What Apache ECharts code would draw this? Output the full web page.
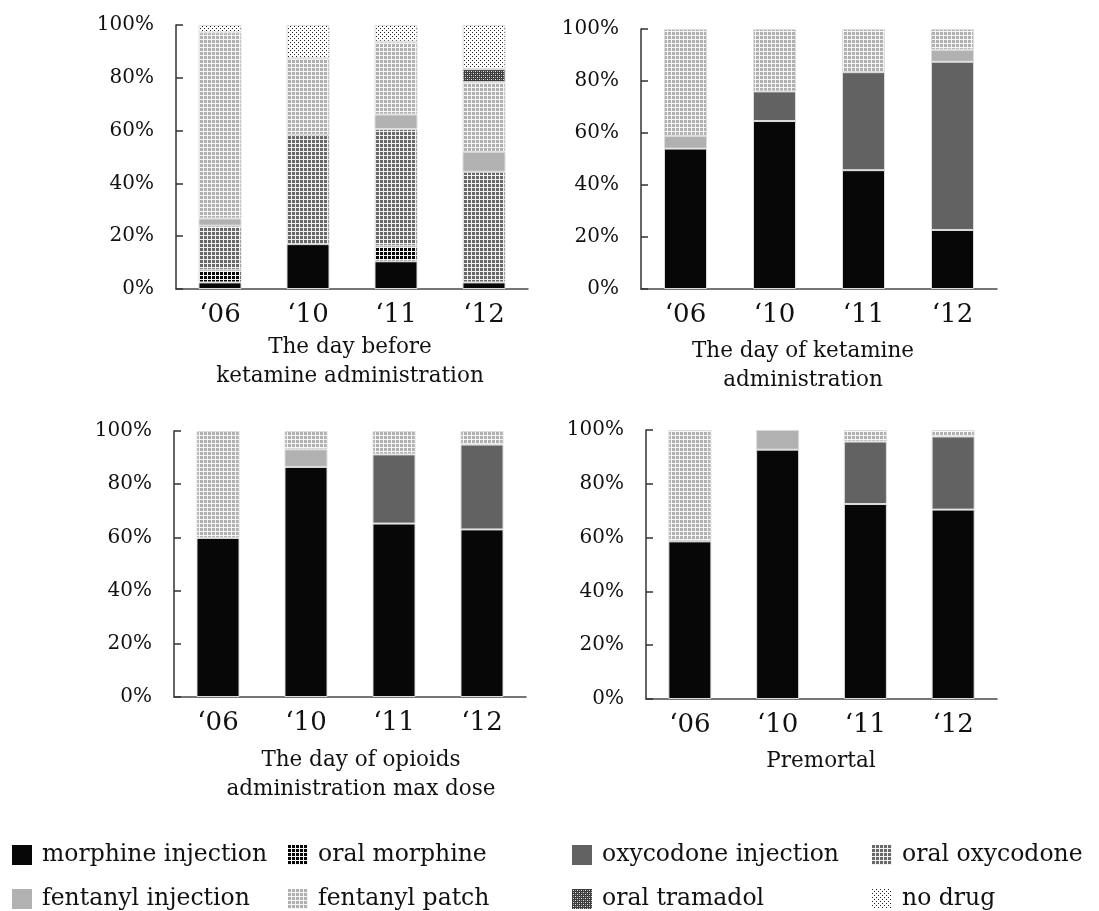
<!DOCTYPE html>
<html>
<head>
<meta charset="utf-8">
<script src="https://cdn.jsdelivr.net/npm/echarts@6/dist/echarts.min.js"></script>
<style>
  html, body { margin: 0; padding: 0; background: #fff; }
  #chart { width: 1099px; height: 911px; }
</style>
</head>
<body>
<div id="chart"></div>
<script>
// Years on each x axis and y-axis tick values (%)
const years = ['\u201806', '\u201810', '\u201811', '\u201812'];
const yMin = 0, yMax = 100, yStep = 20;

// Panel captions
const panelTitles = [
  'The day before\nketamine administration',
  'The day of ketamine\nadministration',
  'The day of opioids\nadministration max dose',
  'Premortal'
];

// Drug names, bottom to top of each stacked bar
const drugs = ['morphine injection', 'oral morphine', 'oxycodone injection', 'oral oxycodone',
               'fentanyl injection', 'fentanyl patch', 'oral tramadol', 'no drug'];

// Share of patients (%) per drug: one row per panel, one value per year
const morphineInjection  = [[2.5, 17, 10.5, 2.5], [54, 64.6, 45.7, 22.7], [59.8, 86.5, 65.2, 63], [58.6, 92.7, 72.5, 70.4]];
const oralMorphine       = [[4.8, 0, 5.9, 0], [0, 0, 0, 0], [0, 0, 0, 0], [0, 0, 0, 0]];
const oxycodoneInjection = [[0, 0, 0, 0], [0, 11.4, 37.7, 64.7], [0, 0, 26, 31.9], [0, 0, 23.2, 27.2]];
const oralOxycodone      = [[16.7, 41.3, 44.2, 41.9], [0, 0, 0, 0], [0, 0, 0, 0], [0, 0, 0, 0]];
const fentanylInjection  = [[2.7, 0, 5.5, 7.6], [4.9, 0, 0, 4.6], [0, 6.6, 0, 0], [0, 7.3, 0, 0]];
const fentanylPatch      = [[70.5, 29.1, 27.6, 26.3], [41.1, 24, 16.6, 8], [40.2, 6.9, 8.8, 5.1], [41.4, 0, 4.3, 2.4]];
const oralTramadol       = [[0, 0, 0, 5], [0, 0, 0, 0], [0, 0, 0, 0], [0, 0, 0, 0]];
const noDrug             = [[2.8, 12.6, 6.3, 16.7], [0, 0, 0, 0], [0, 0, 0, 0], [0, 0, 0, 0]];

const drugValues = [morphineInjection, oralMorphine, oxycodoneInjection, oralOxycodone,
                    fentanylInjection, fentanylPatch, oralTramadol, noDrug];

// ---- fill patterns -------------------------------------------------------
function tile(size, paint) {
  const c = document.createElement('canvas');
  c.width = size; c.height = size;
  const ctx = c.getContext('2d');
  paint(ctx, size);
  return { image: c, repeat: 'repeat' };
}
// square grid: coloured cells separated by light lines
function gridTile(cell, line) {
  return tile(4, (ctx, s) => {
    ctx.fillStyle = line; ctx.fillRect(0, 0, s, s);
    ctx.fillStyle = cell; ctx.fillRect(0, 0, 3, 3);
  });
}
const fills = [
  '#070707',                         // morphine injection
  gridTile('#050505', '#f4f4f4'),    // oral morphine
  '#626262',                         // oxycodone injection
  gridTile('#686868', '#f2f2f2'),    // oral oxycodone
  '#b1b1b1',                         // fentanyl injection
  gridTile('#b0b0b0', '#f6f6f6'),    // fentanyl patch
  tile(4, (ctx, s) => {              // oral tramadol
    ctx.fillStyle = '#3c3c3c'; ctx.fillRect(0, 0, s, s);
    ctx.fillStyle = '#e6e6e6';
    ctx.fillRect(1, 1, 1, 1); ctx.fillRect(3, 3, 1, 1);
    ctx.fillStyle = '#9a9a9a';
    ctx.fillRect(3, 1, 1, 1); ctx.fillRect(1, 3, 1, 1);
  }),
  tile(4, (ctx, s) => {              // no drug
    ctx.fillStyle = '#ffffff'; ctx.fillRect(0, 0, s, s);
    ctx.fillStyle = '#222222';
    ctx.fillRect(0, 0, 1, 1); ctx.fillRect(2, 2, 1, 1);
  })
];

// ---- layout --------------------------------------------------------------
const font = '"DejaVu Serif", "Liberation Serif", serif';
const grids = [
  { left: 176, top: 25,  width: 352, height: 264 },
  { left: 641, top: 29,  width: 356, height: 260 },
  { left: 174, top: 431, width: 352, height: 266 },
  { left: 646, top: 430, width: 351, height: 269 }
];
const titlePos = [
  { x: 350, y: 333 },
  { x: 803, y: 337 },
  { x: 361, y: 746 },
  { x: 821, y: 747 }
];

const xAxes = grids.map((g, i) => ({
  type: 'category', gridIndex: i, data: years,
  axisLine: { lineStyle: { color: '#4a4a4a', width: 1.5 } },
  axisTick: { show: false },
  axisLabel: { fontFamily: font, fontSize: 26, color: '#111', margin: 13 }
}));
const yAxes = grids.map((g, i) => ({
  type: 'value', gridIndex: i, min: yMin, max: yMax, interval: yStep,
  axisLine: { show: true, lineStyle: { color: '#333', width: 1.5 } },
  axisTick: { show: true, inside: true, length: 7, lineStyle: { color: '#333', width: 1.5 } },
  splitLine: { show: false },
  axisLabel: { fontFamily: font, fontSize: 20, color: '#111', margin: 22, formatter: '{value}%' }
}));

const series = [];
grids.forEach((g, p) => {
  drugs.forEach((name, d) => {
    series.push({
      type: 'bar', name,
      xAxisIndex: p, yAxisIndex: p, stack: 'panel' + p,
      barWidth: 43,
      data: drugValues[d][p].map(v => (v === 0 ? '-' : v)),
      itemStyle: { color: fills[d], borderColor: '#dcdcdc', borderWidth: 1 },
      emphasis: { disabled: true }
    });
  });
});

// legend: four columns of two rows
const legendCols = [
  { left: 12,  names: [drugs[0], drugs[4]] },
  { left: 288, names: [drugs[1], drugs[5]] },
  { left: 572, names: [drugs[2], drugs[6]] },
  { left: 872, names: [drugs[3], drugs[7]] }
];
const legends = legendCols.map(c => ({
  left: c.left, top: 843, orient: 'vertical', padding: 0, height: 120,
  data: c.names.map(n => ({ name: n, icon: 'rect' })),
  itemWidth: 20, itemHeight: 20, itemGap: 20,
  selectedMode: false,
  itemStyle: { borderWidth: 0 },
  textStyle: { fontFamily: font, fontSize: 23.5, lineHeight: 20, color: '#111', padding: [0, 0, 0, 5] }
}));

const chart = echarts.init(document.getElementById('chart'), null, { renderer: 'canvas' });
chart.setOption({
  backgroundColor: '#ffffff',
  animation: false,
  title: panelTitles.map((t, i) => ({
    text: t, left: titlePos[i].x, top: titlePos[i].y, textAlign: 'center', padding: 0,
    textStyle: { fontFamily: font, fontSize: 21.5, fontWeight: 'normal', color: '#111', lineHeight: 29 }
  })),
  legend: legends,
  grid: grids,
  xAxis: xAxes,
  yAxis: yAxes,
  series
});
</script>
</body>
</html>
